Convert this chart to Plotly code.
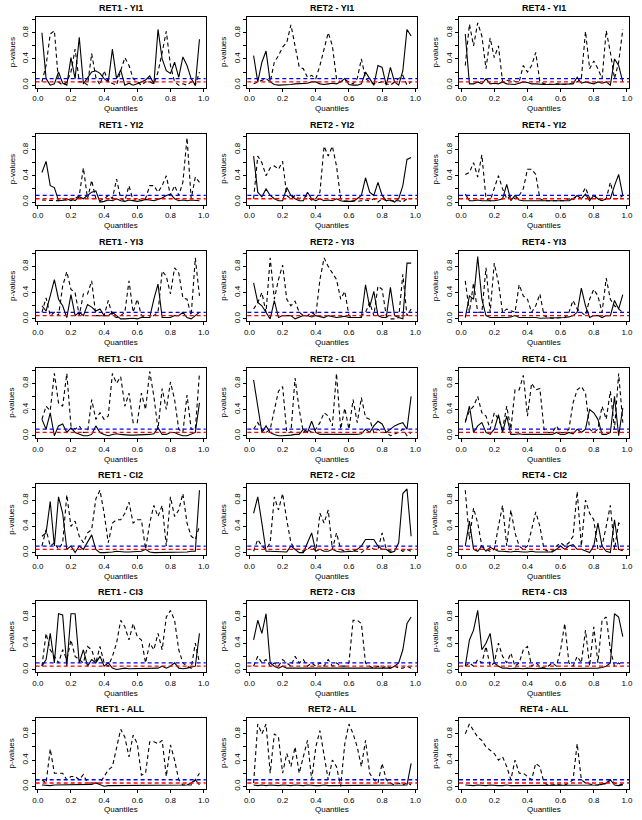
import plotly.graph_objects as go
from plotly.subplots import make_subplots

quantiles = [round(0.025 * (i + 1), 3) for i in range(39)]
x_ticks = [0.0, 0.2, 0.4, 0.6, 0.8, 1.0]
x_ticklabels = ["0.0", "0.2", "0.4", "0.6", "0.8", "1.0"]
y_ticks = [0.0, 0.2, 0.4, 0.6, 0.8, 1.0]
y_ticklabels = ["0.0", "", "0.4", "", "0.8", ""]
ref_blue = 0.10
ref_red = 0.05

# Row 1: YI1
ret1_yi1_solid = [0.80,0.10,0.00,0.02,0.20,0.03,0.00,0.42,0.10,0.73,0.02,0.12,0.20,0.22,0.18,0.10,0.05,0.55,0.10,0.23,0.00,0.03,0.00,0.02,0.05,0.08,0.14,0.02,0.85,0.40,0.22,0.18,0.35,0.12,0.43,0.30,0.10,0.00,0.70]
ret1_yi1_dash = [0.05,0.30,0.78,0.83,0.05,0.00,0.05,0.20,0.55,0.05,0.05,0.00,0.48,0.12,0.00,0.22,0.05,0.02,0.00,0.22,0.42,0.30,0.10,0.05,0.00,0.05,0.05,0.02,0.20,0.50,0.82,0.30,0.05,0.00,0.02,0.00,0.05,0.00,0.20]
ret2_yi1_solid = [0.45,0.05,0.35,0.52,0.05,0.01,0.00,0.00,0.00,0.01,0.02,0.02,0.03,0.03,0.05,0.05,0.02,0.01,0.02,0.03,0.02,0.05,0.10,0.01,0.00,0.00,0.02,0.20,0.10,0.00,0.30,0.27,0.00,0.27,0.05,0.00,0.22,0.85,0.75]
ret2_yi1_dash = [0.02,0.05,0.08,0.10,0.05,0.35,0.45,0.58,0.65,0.92,0.60,0.28,0.25,0.12,0.15,0.10,0.30,0.55,0.80,0.60,0.10,0.05,0.08,0.05,0.02,0.10,0.40,0.10,0.05,0.02,0.03,0.05,0.02,0.00,0.05,0.10,0.15,0.00,0.05]
ret4_yi1_solid = [0.78,0.02,0.02,0.05,0.02,0.10,0.02,0.03,0.02,0.05,0.02,0.02,0.01,0.03,0.05,0.04,0.02,0.02,0.01,0.01,0.01,0.01,0.01,0.01,0.01,0.02,0.02,0.12,0.03,0.05,0.03,0.02,0.05,0.03,0.05,0.00,0.40,0.30,0.05]
ret4_yi1_dash = [0.30,0.93,0.60,0.95,0.75,0.25,0.72,0.42,0.60,0.05,0.07,0.08,0.06,0.05,0.30,0.20,0.30,0.50,0.05,0.02,0.02,0.01,0.02,0.01,0.01,0.02,0.03,0.05,0.10,0.82,0.25,0.37,0.25,0.10,0.83,0.50,0.10,0.35,0.85]

# Row 2: YI2
ret1_yi2_solid = [0.45,0.62,0.25,0.22,0.02,0.02,0.03,0.05,0.02,0.08,0.05,0.10,0.15,0.17,0.00,0.01,0.03,0.02,0.05,0.02,0.01,0.03,0.02,0.01,0.02,0.04,0.03,0.02,0.04,0.06,0.10,0.12,0.05,0.02,0.03,0.02,0.03,0.02,0.02]
ret1_yi2_dash = [0.03,0.03,0.02,0.02,0.02,0.05,0.03,0.02,0.05,0.10,0.52,0.05,0.33,0.05,0.02,0.05,0.10,0.05,0.35,0.05,0.02,0.25,0.02,0.05,0.02,0.05,0.25,0.25,0.15,0.25,0.40,0.10,0.25,0.10,0.30,0.98,0.05,0.38,0.30]
ret2_yi2_solid = [0.70,0.15,0.08,0.20,0.10,0.05,0.02,0.02,0.22,0.10,0.05,0.02,0.02,0.15,0.05,0.02,0.05,0.02,0.03,0.02,0.05,0.02,0.01,0.01,0.01,0.05,0.10,0.37,0.15,0.10,0.30,0.10,0.02,0.03,0.00,0.05,0.25,0.65,0.68]
ret2_yi2_dash = [0.05,0.70,0.60,0.40,0.52,0.55,0.50,0.62,0.10,0.05,0.10,0.05,0.10,0.08,0.03,0.05,0.15,0.85,0.70,0.85,0.55,0.05,0.02,0.01,0.02,0.01,0.02,0.03,0.02,0.05,0.00,0.05,0.02,0.02,0.03,0.02,0.00,0.05,0.05]
ret4_yi2_solid = [0.12,0.02,0.02,0.03,0.02,0.02,0.01,0.02,0.03,0.05,0.27,0.02,0.10,0.03,0.02,0.02,0.01,0.01,0.02,0.01,0.01,0.01,0.01,0.02,0.01,0.02,0.05,0.10,0.05,0.12,0.02,0.10,0.05,0.02,0.05,0.05,0.25,0.42,0.10]
ret4_yi2_dash = [0.42,0.45,0.60,0.38,0.72,0.05,0.02,0.22,0.40,0.20,0.05,0.10,0.05,0.10,0.20,0.50,0.50,0.42,0.05,0.02,0.02,0.01,0.02,0.01,0.02,0.05,0.03,0.10,0.10,0.22,0.05,0.10,0.05,0.02,0.05,0.30,0.05,0.05,0.10]

# Row 3: YI3
ret1_yi3_solid = [0.20,0.12,0.35,0.60,0.30,0.20,0.02,0.37,0.05,0.10,0.05,0.22,0.18,0.12,0.15,0.05,0.05,0.10,0.05,0.00,0.00,0.01,0.01,0.00,0.02,0.02,0.02,0.30,0.53,0.02,0.02,0.02,0.05,0.05,0.10,0.02,0.00,0.05,0.10]
ret1_yi3_dash = [0.10,0.32,0.05,0.10,0.05,0.50,0.72,0.45,0.40,0.05,0.38,0.38,0.58,0.05,0.05,0.05,0.28,0.05,0.02,0.05,0.10,0.58,0.10,0.30,0.05,0.02,0.02,0.05,0.10,0.73,0.65,0.38,0.78,0.70,0.32,0.30,0.05,0.93,0.35]
ret2_yi3_solid = [0.55,0.25,0.20,0.10,0.00,0.28,0.02,0.05,0.05,0.05,0.00,0.02,0.05,0.05,0.03,0.05,0.03,0.02,0.05,0.03,0.02,0.03,0.04,0.02,0.02,0.02,0.02,0.52,0.18,0.42,0.05,0.02,0.02,0.48,0.05,0.02,0.00,0.85,0.85]
ret2_yi3_dash = [0.15,0.25,0.40,0.10,0.93,0.30,0.60,0.82,0.30,0.20,0.27,0.10,0.05,0.05,0.10,0.05,0.60,0.93,0.80,0.70,0.60,0.30,0.42,0.05,0.02,0.02,0.05,0.10,0.25,0.05,0.50,0.45,0.05,0.00,0.00,0.02,0.68,0.05,0.15]
ret4_yi3_solid = [0.02,0.35,0.30,0.95,0.30,0.05,0.02,0.02,0.01,0.02,0.02,0.03,0.05,0.02,0.02,0.03,0.02,0.02,0.01,0.01,0.01,0.01,0.02,0.01,0.02,0.03,0.05,0.10,0.47,0.20,0.02,0.05,0.05,0.02,0.05,0.05,0.28,0.15,0.37]
ret4_yi3_dash = [0.58,0.10,0.55,0.10,0.10,0.78,0.10,0.85,0.55,0.10,0.15,0.12,0.10,0.52,0.35,0.30,0.10,0.20,0.38,0.05,0.02,0.01,0.01,0.02,0.02,0.10,0.28,0.15,0.10,0.05,0.30,0.45,0.35,0.10,0.62,0.30,0.20,0.15,0.10]

# Row 4: CI1
ret1_ci1_solid = [0.25,0.10,0.35,0.00,0.15,0.18,0.05,0.12,0.05,0.02,0.00,0.00,0.02,0.15,0.05,0.02,0.00,0.02,0.03,0.02,0.01,0.01,0.01,0.01,0.02,0.02,0.02,0.03,0.12,0.02,0.02,0.05,0.05,0.02,0.00,0.00,0.02,0.05,0.50]
ret1_ci1_dash = [0.25,0.45,0.38,0.95,0.50,0.45,0.95,0.15,0.10,0.15,0.05,0.05,0.55,0.25,0.35,0.25,0.30,0.95,0.80,0.90,0.45,0.65,0.20,0.20,0.65,0.40,0.98,0.60,0.10,0.72,0.40,0.82,0.55,0.10,0.05,0.62,0.10,0.10,0.95]
ret2_ci1_solid = [0.85,0.45,0.05,0.15,0.05,0.02,0.00,0.00,0.00,0.01,0.02,0.02,0.10,0.05,0.22,0.05,0.02,0.02,0.01,0.01,0.01,0.02,0.01,0.01,0.02,0.02,0.03,0.10,0.05,0.15,0.22,0.18,0.05,0.10,0.15,0.18,0.20,0.10,0.60]
ret2_ci1_dash = [0.10,0.20,0.10,0.05,0.10,0.40,0.68,0.75,0.05,0.05,0.88,0.40,0.05,0.10,0.05,0.10,0.20,0.35,0.30,0.15,0.95,0.10,0.42,0.10,0.55,0.20,0.58,0.28,0.25,0.05,0.10,0.05,0.05,0.00,0.02,0.05,0.10,0.00,0.05]
ret4_ci1_solid = [0.20,0.45,0.05,0.15,0.20,0.05,0.02,0.10,0.32,0.05,0.30,0.02,0.02,0.03,0.02,0.02,0.01,0.01,0.02,0.01,0.01,0.02,0.05,0.02,0.02,0.05,0.03,0.10,0.05,0.10,0.40,0.35,0.25,0.02,0.02,0.05,0.60,0.00,0.42]
ret4_ci1_dash = [0.22,0.38,0.45,0.60,0.35,0.30,0.10,0.35,0.25,0.10,0.45,0.10,0.70,0.70,0.92,0.30,0.80,0.70,0.72,0.10,0.05,0.05,0.15,0.05,0.05,0.10,0.50,0.70,0.75,0.65,0.10,0.05,0.10,0.45,0.25,0.68,0.10,0.95,0.20]

# Row 5: CI2
ret1_ci2_solid = [0.25,0.30,0.78,0.10,0.85,0.60,0.05,0.10,0.00,0.10,0.05,0.15,0.27,0.05,0.00,0.00,0.00,0.01,0.02,0.01,0.01,0.01,0.01,0.01,0.02,0.05,0.01,0.00,0.00,0.00,0.00,0.00,0.00,0.00,0.00,0.01,0.02,0.02,0.95]
ret1_ci2_dash = [0.10,0.35,0.10,0.15,0.05,0.15,0.88,0.40,0.48,0.25,0.15,0.30,0.35,0.82,0.95,0.60,0.15,0.45,0.50,0.50,0.60,0.77,0.45,0.50,0.50,0.05,0.45,0.72,0.55,0.72,0.10,0.85,0.55,0.65,0.90,0.45,0.25,0.20,0.40]
ret2_ci2_solid = [0.60,0.85,0.45,0.02,0.02,0.02,0.01,0.02,0.01,0.10,0.05,0.00,0.00,0.15,0.30,0.02,0.05,0.02,0.02,0.05,0.02,0.01,0.01,0.01,0.02,0.05,0.10,0.20,0.20,0.20,0.10,0.05,0.05,0.00,0.02,0.15,0.90,0.97,0.25]
ret2_ci2_dash = [0.02,0.20,0.10,0.05,0.15,0.85,0.65,0.90,0.50,0.15,0.05,0.05,0.02,0.05,0.10,0.02,0.60,0.45,0.65,0.05,0.30,0.05,0.02,0.02,0.01,0.02,0.00,0.05,0.10,0.05,0.05,0.30,0.05,0.02,0.05,0.05,0.02,0.05,0.02]
ret4_ci2_solid = [0.10,0.48,0.05,0.02,0.10,0.02,0.08,0.05,0.02,0.02,0.01,0.01,0.02,0.01,0.01,0.01,0.02,0.01,0.01,0.01,0.02,0.01,0.05,0.10,0.05,0.10,0.12,0.05,0.05,0.02,0.00,0.10,0.45,0.10,0.02,0.00,0.50,0.05,0.03]
ret4_ci2_dash = [0.95,0.20,0.68,0.45,0.10,0.05,0.02,0.05,0.40,0.72,0.10,0.65,0.30,0.10,0.05,0.10,0.35,0.62,0.40,0.05,0.02,0.02,0.10,0.15,0.10,0.15,0.25,0.93,0.10,0.80,0.60,0.50,0.05,0.10,0.40,0.72,0.05,0.45,0.43]

# Row 6: CI3
ret1_ci3_solid = [0.05,0.15,0.55,0.10,0.85,0.83,0.05,0.85,0.85,0.10,0.30,0.05,0.15,0.10,0.20,0.05,0.10,0.02,0.00,0.01,0.02,0.01,0.01,0.02,0.01,0.01,0.02,0.01,0.02,0.05,0.02,0.05,0.10,0.02,0.01,0.02,0.03,0.05,0.55]
ret1_ci3_dash = [0.05,0.55,0.30,0.20,0.10,0.30,0.15,0.45,0.20,0.15,0.10,0.35,0.30,0.10,0.35,0.10,0.05,0.20,0.40,0.75,0.65,0.45,0.70,0.50,0.45,0.10,0.40,0.30,0.55,0.30,0.80,0.90,0.75,0.30,0.10,0.05,0.02,0.40,0.10]
ret2_ci3_solid = [0.45,0.75,0.55,0.85,0.10,0.05,0.02,0.05,0.02,0.02,0.01,0.01,0.02,0.01,0.02,0.01,0.01,0.02,0.01,0.01,0.01,0.01,0.01,0.01,0.01,0.01,0.01,0.02,0.01,0.02,0.01,0.02,0.01,0.02,0.05,0.10,0.30,0.70,0.80]
ret2_ci3_dash = [0.05,0.20,0.10,0.15,0.05,0.10,0.05,0.15,0.10,0.05,0.20,0.10,0.15,0.05,0.10,0.05,0.10,0.05,0.15,0.05,0.10,0.05,0.05,0.10,0.75,0.75,0.70,0.10,0.05,0.02,0.05,0.02,0.05,0.02,0.05,0.02,0.02,0.05,0.02]
ret4_ci3_solid = [0.05,0.45,0.60,0.90,0.30,0.40,0.55,0.10,0.05,0.02,0.02,0.01,0.02,0.01,0.01,0.02,0.01,0.01,0.02,0.01,0.01,0.01,0.01,0.02,0.01,0.01,0.02,0.01,0.02,0.01,0.02,0.01,0.02,0.03,0.05,0.10,0.85,0.80,0.50]
ret4_ci3_dash = [0.05,0.10,0.05,0.15,0.10,0.35,0.05,0.10,0.40,0.20,0.10,0.25,0.05,0.10,0.30,0.35,0.05,0.10,0.05,0.02,0.05,0.10,0.05,0.30,0.70,0.10,0.05,0.20,0.10,0.60,0.05,0.65,0.10,0.75,0.80,0.30,0.05,0.10,0.05]

# Row 7: ALL
ret1_all_solid = [0.02,0.01,0.01,0.02,0.02,0.02,0.03,0.02,0.02,0.02,0.02,0.02,0.03,0.05,0.02,0.00,0.01,0.01,0.01,0.01,0.01,0.01,0.01,0.01,0.01,0.01,0.01,0.01,0.01,0.01,0.01,0.01,0.01,0.01,0.02,0.02,0.05,0.10,0.02]
ret1_all_dash = [0.10,0.05,0.57,0.20,0.20,0.20,0.10,0.15,0.15,0.10,0.18,0.05,0.05,0.05,0.05,0.15,0.25,0.30,0.60,0.87,0.75,0.45,0.78,0.65,0.17,0.20,0.68,0.68,0.65,0.70,0.15,0.63,0.40,0.10,0.02,0.02,0.02,0.10,0.20]
ret2_all_solid = [0.02,0.01,0.02,0.01,0.02,0.01,0.01,0.02,0.01,0.01,0.02,0.01,0.01,0.02,0.01,0.01,0.01,0.02,0.01,0.01,0.01,0.01,0.01,0.01,0.01,0.01,0.01,0.01,0.01,0.01,0.01,0.01,0.01,0.01,0.01,0.02,0.01,0.02,0.35]
ret2_all_dash = [0.05,0.95,0.80,0.95,0.20,0.80,0.75,0.20,0.50,0.30,0.60,0.20,0.45,0.70,0.10,0.60,0.85,0.50,0.10,0.40,0.30,0.00,0.65,0.95,0.80,0.60,0.30,0.70,0.20,0.10,0.05,0.35,0.10,0.05,0.02,0.05,0.02,0.05,0.02]
ret4_all_solid = [0.02,0.01,0.01,0.02,0.01,0.01,0.02,0.01,0.01,0.01,0.02,0.01,0.01,0.01,0.01,0.01,0.01,0.01,0.01,0.01,0.01,0.01,0.01,0.01,0.01,0.01,0.02,0.01,0.01,0.01,0.01,0.01,0.02,0.03,0.05,0.10,0.02,0.01,0.02]
ret4_all_dash = [0.80,0.95,0.85,0.75,0.70,0.60,0.55,0.50,0.40,0.45,0.30,0.10,0.40,0.20,0.20,0.15,0.10,0.35,0.30,0.05,0.02,0.02,0.03,0.02,0.02,0.05,0.10,0.65,0.10,0.05,0.03,0.02,0.02,0.05,0.03,0.10,0.05,0.02,0.03]

row_names = ["YI1", "YI2", "YI3", "CI1", "CI2", "CI3", "ALL"]
col_names = ["RET1", "RET2", "RET4"]
solid_series = [
    [ret1_yi1_solid, ret2_yi1_solid, ret4_yi1_solid],
    [ret1_yi2_solid, ret2_yi2_solid, ret4_yi2_solid],
    [ret1_yi3_solid, ret2_yi3_solid, ret4_yi3_solid],
    [ret1_ci1_solid, ret2_ci1_solid, ret4_ci1_solid],
    [ret1_ci2_solid, ret2_ci2_solid, ret4_ci2_solid],
    [ret1_ci3_solid, ret2_ci3_solid, ret4_ci3_solid],
    [ret1_all_solid, ret2_all_solid, ret4_all_solid],
]
dash_series = [
    [ret1_yi1_dash, ret2_yi1_dash, ret4_yi1_dash],
    [ret1_yi2_dash, ret2_yi2_dash, ret4_yi2_dash],
    [ret1_yi3_dash, ret2_yi3_dash, ret4_yi3_dash],
    [ret1_ci1_dash, ret2_ci1_dash, ret4_ci1_dash],
    [ret1_ci2_dash, ret2_ci2_dash, ret4_ci2_dash],
    [ret1_ci3_dash, ret2_ci3_dash, ret4_ci3_dash],
    [ret1_all_dash, ret2_all_dash, ret4_all_dash],
]

W, H = 642, 820
COLW = 214.0
ROWH = H / 7.0
BOX_L, BOX_R = 33.0, 205.0
BOX_T, BOX_B = 17.0, 88.0
FONT = "Liberation Sans, Arial, Helvetica, sans-serif"

fig = make_subplots(rows=7, cols=3)
annotations = []
for r in range(7):
    for c in range(3):
        n = r * 3 + c + 1
        xs = "" if n == 1 else str(n)
        fig.add_trace(go.Scatter(x=quantiles, y=dash_series[r][c], mode="lines",
                                 line=dict(color="black", width=1.1, dash="4px,3px"),
                                 showlegend=False, hoverinfo="skip"), row=r + 1, col=c + 1)
        fig.add_trace(go.Scatter(x=quantiles, y=solid_series[r][c], mode="lines",
                                 line=dict(color="black", width=1.1),
                                 showlegend=False, hoverinfo="skip"), row=r + 1, col=c + 1)
        fig.add_hline(y=ref_blue, line=dict(color="#0000ff", width=1.3, dash="4px,3px"), row=r + 1, col=c + 1)
        fig.add_hline(y=ref_red, line=dict(color="#ff0000", width=1.3, dash="4px,3px"), row=r + 1, col=c + 1)

        x0 = (c * COLW + BOX_L) / W
        x1 = (c * COLW + BOX_R) / W
        ytop = 1 - (r * ROWH + BOX_T) / H
        ybot = 1 - (r * ROWH + BOX_B) / H
        fig.layout["xaxis" + xs].update(
            domain=[x0, x1], range=[-0.013, 1.013], tickvals=x_ticks, ticktext=x_ticklabels,
            showline=True, mirror=True, linecolor="black", linewidth=1,
            ticks="outside", ticklen=3, tickwidth=1, tickcolor="black",
            showgrid=False, zeroline=False, tickfont=dict(size=8, color="black", family=FONT))
        fig.layout["yaxis" + xs].update(
            domain=[ybot, ytop], range=[-0.04, 1.04], tickvals=y_ticks, ticktext=y_ticklabels,
            showline=True, mirror=True, linecolor="black", linewidth=1,
            ticks="outside", ticklen=3, tickwidth=1, tickcolor="black", tickangle=-90,
            showgrid=False, zeroline=False, tickfont=dict(size=8, color="black", family=FONT))
        cx = (x0 + x1) / 2
        annotations.append(dict(text="<b>%s - %s</b>" % (col_names[c], row_names[r]),
                                x=cx, y=1 - (r * ROWH + 8) / H, xref="paper", yref="paper",
                                xanchor="center", yanchor="middle",
                                showarrow=False, font=dict(size=9, color="black", family=FONT)))
        annotations.append(dict(text="Quantiles", x=cx, y=1 - (r * ROWH + 109) / H,
                                xref="paper", yref="paper", xanchor="center", yanchor="middle",
                                showarrow=False, font=dict(size=8, color="black", family=FONT)))
        annotations.append(dict(text="p-values", x=(c * COLW + 9) / W, y=(ytop + ybot) / 2,
                                xref="paper", yref="paper", xanchor="center", yanchor="middle",
                                showarrow=False, textangle=-90,
                                font=dict(size=8, color="black", family=FONT)))

fig.update_layout(width=W, height=H, margin=dict(l=0, r=0, t=0, b=0),
                  paper_bgcolor="white", plot_bgcolor="white",
                  annotations=annotations, showlegend=False,
                  font=dict(family=FONT, color="black"))
fig.write_html("out.html")
